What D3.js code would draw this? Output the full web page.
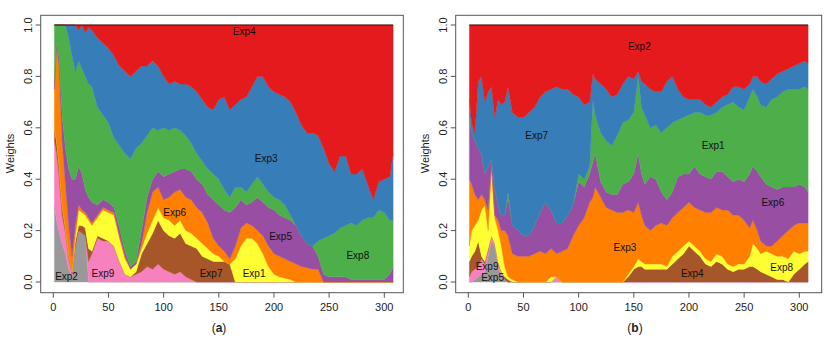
<!DOCTYPE html>
<html>
<head>
<meta charset="utf-8">
<script src="https://cdn.jsdelivr.net/npm/d3@7/dist/d3.min.js"></script>
<style>
  body { margin: 0; background: #fff; }
  text { font-family: "Liberation Sans", Arial, Helvetica, sans-serif; }
</style>
</head>
<body>
<div id="chart"></div>
<script>
// Set1 palette, bottom layer to top layer
var palette = ["#999999", "#F781BF", "#A65628", "#FFFF33", "#FF7F00", "#984EA3", "#4DAF4A", "#377EB8", "#E41A1C"];

// ---- panel (a) ----
var keysA = ["Exp2", "Exp9", "Exp7", "Exp1", "Exp6", "Exp5", "Exp8", "Exp3", "Exp4"];
var timeA = [1,3,5,8,11,14,17,20,23,26,29,32,35,40,45,50,55,60,65,70,75,80,85,90,95,100,105,110,115,120,125,130,135,140,145,150,155,160,165,170,175,180,185,190,195,200,205,210,215,220,225,230,235,240,245,250,255,260,265,270,275,280,285,290,295,300,305,308];
// cumulative upper edge of each layer (the top layer Exp4 runs up to 1)
var edgeA_Exp2 = [.30,.24,.20,.15,.11,.05,.02,.14,.20,.19,.18,0,0,0,0,0,0,0,0,0,0,0,0,0,0,0,0,0,0,0,0,0,0,0,0,0,0,0,0,0,0,0,0,0,0,0,0,0,0,0,0,0,0,0,0,0,0,0,0,0,0,0,0,0,0,0,0,0];
var edgeA_Exp9 = [.55,.50,.42,.26,.19,.09,.03,.14,.20,.19,.18,.08,.11,.17,.16,.16,.14,.08,.03,.02,.03,.04,.06,.05,.07,.05,.04,.03,.04,.02,.01,0,0,0,0,0,0,0,0,0,0,0,0,0,0,0,0,0,0,0,0,0,0,0,0,0,0,0,0,0,0,0,0,0,0,0,0,0];
var edgeA_Exp7 = [.60,.55,.47,.30,.21,.11,.04,.16,.22,.22,.21,.13,.12,.18,.17,.16,.14,.08,.03,.02,.04,.11,.15,.19,.24,.20,.18,.17,.19,.15,.14,.13,.10,.09,.08,.08,.08,.07,0,0,0,0,0,0,0,0,0,0,0,0,0,0,0,0,0,0,0,0,0,0,0,0,0,0,0,0,0,0];
var edgeA_Exp1 = [.60,.55,.47,.30,.21,.11,.04,.18,.28,.27,.26,.24,.22,.25,.28,.27,.26,.17,.09,.05,.07,.13,.19,.24,.29,.25,.24,.22,.24,.20,.19,.17,.15,.13,.11,.10,.08,.07,.09,.14,.17,.17,.15,.11,.06,.03,.02,.015,.01,0,0,0,0,0,0,0,0,0,0,0,0,0,0,0,0,0,0,0];
var edgeA_Exp6 = [.75,.92,.85,.55,.38,.22,.10,.22,.30,.28,.27,.25,.23,.26,.29,.28,.27,.18,.10,.05,.07,.15,.27,.35,.37,.32,.33,.35,.36,.33,.32,.29,.27,.23,.17,.14,.12,.09,.14,.21,.23,.22,.20,.18,.14,.11,.10,.09,.08,.07,.06,.055,.05,.05,0,0,0,0,0,0,0,0,0,0,0,0,0,0];
var edgeA_Exp5 = [.78,.94,.88,.65,.52,.44,.40,.40,.45,.42,.36,.33,.31,.30,.32,.31,.29,.21,.12,.06,.08,.20,.33,.40,.43,.41,.42,.43,.44,.44,.43,.40,.38,.34,.32,.30,.28,.27,.29,.32,.30,.31,.33,.31,.29,.28,.26,.25,.24,.22,.18,.15,.14,.10,.03,.02,.02,.02,.02,.01,.01,.01,.01,.01,.01,.01,.03,.06];
var edgeA_Exp8 = [1,1,1,1,1,.95,.88,.82,.86,.83,.80,.77,.76,.68,.65,.62,.56,.53,.50,.48,.52,.54,.57,.60,.59,.60,.59,.60,.59,.57,.54,.50,.47,.44,.42,.40,.36,.33,.37,.37,.35,.38,.41,.38,.35,.33,.32,.30,.26,.22,.18,.15,.14,.16,.17,.18,.19,.21,.22,.23,.22,.24,.25,.25,.28,.27,.24,.24];
var edgeA_Exp3 = [1,1,1,1,1,1,1,1,.98,1,.97,.99,.98,.95,.93,.91,.88,.84,.82,.80,.82,.84,.84,.86,.84,.80,.77,.78,.77,.77,.76,.74,.71,.68,.67,.71,.72,.67,.69,.71,.72,.76,.80,.80,.76,.74,.73,.72,.70,.66,.61,.58,.58,.57,.52,.46,.43,.49,.49,.42,.42,.44,.38,.32,.39,.40,.41,.50];
var labelsA = [
  { name: "Exp4", t: 173, v: 0.975 }, { name: "Exp3", t: 193, v: 0.48 },
  { name: "Exp8", t: 276, v: 0.105 }, { name: "Exp5", t: 206, v: 0.176 },
  { name: "Exp1", t: 182, v: 0.034 }, { name: "Exp7", t: 143, v: 0.034 },
  { name: "Exp6", t: 110, v: 0.27 }, { name: "Exp9", t: 45, v: 0.034 },
  { name: "Exp2", t: 12, v: 0.02 }
];

// ---- panel (b) ----
var keysB = ["Exp5", "Exp9", "Exp4", "Exp8", "Exp3", "Exp6", "Exp1", "Exp7", "Exp2"];
var timeB = [1,3,6,9,12,15,18,21,24,27,30,33,36,40,45,50,55,60,65,70,75,80,85,90,95,100,105,110,113,115,120,125,130,135,140,145,150,154,157,160,165,170,175,180,185,190,195,200,205,210,215,220,225,230,235,240,245,250,255,258,262,265,270,275,280,285,290,295,300,305,308];
var edgeB_Exp5 = [0,0,.01,.02,.03,.04,.10,.16,.14,.06,.02,.01,0,0,0,0,0,0,0,0,0,0,0,0,0,0,0,0,0,0,0,0,0,0,0,0,0,0,0,0,0,0,0,0,0,0,0,0,0,0,0,0,0,0,0,0,0,0,0,0,0,0,0,0,0,0,0,0,0,0,0];
var edgeB_Exp9 = [.02,.04,.05,.06,.09,.07,.12,.18,.15,.08,.04,.01,0,0,0,0,0,0,0,0,0,.02,0,0,0,0,0,0,0,0,0,0,0,0,0,0,0,0,0,0,0,0,0,0,0,0,0,0,0,0,0,0,0,0,0,0,0,0,0,0,0,0,0,0,0,0,0,0,0,0,0];
var edgeB_Exp4 = [.08,.10,.12,.16,.10,.08,.13,.18,.15,.08,.04,.02,.01,0,0,0,0,0,0,0,0,.02,0,0,0,0,0,0,0,0,0,0,0,0,0,.02,.05,.06,.06,.05,.05,.05,.05,.05,.07,.09,.11,.14,.12,.10,.07,.06,.08,.07,.05,.04,.05,.05,.06,.06,.05,.04,.03,.02,.01,.01,0,.03,.05,.07,.08];
var edgeB_Exp8 = [.14,.20,.22,.24,.28,.30,.20,.44,.25,.20,.14,.06,.02,.01,0,0,0,0,0,0,.02,.02,0,0,0,0,0,0,0,0,0,0,0,0,0,.03,.06,.09,.08,.07,.07,.07,.07,.06,.10,.12,.14,.16,.14,.12,.09,.08,.11,.10,.07,.06,.07,.07,.10,.15,.13,.11,.12,.11,.10,.10,.09,.12,.11,.12,.12];
var edgeB_Exp3 = [.40,.38,.34,.32,.34,.32,.28,.46,.26,.24,.20,.20,.18,.11,.10,.10,.10,.11,.12,.11,.13,.11,.12,.13,.18,.22,.25,.31,.33,.37,.33,.29,.28,.27,.27,.28,.27,.31,.26,.22,.20,.22,.23,.22,.25,.27,.29,.31,.29,.28,.27,.27,.29,.28,.28,.26,.26,.24,.21,.24,.20,.16,.14,.14,.16,.18,.20,.22,.23,.23,.23];
var edgeB_Exp6 = [.66,.58,.55,.52,.50,.42,.45,.48,.37,.30,.26,.26,.33,.22,.20,.18,.18,.22,.27,.31,.28,.23,.23,.26,.30,.39,.37,.42,.47,.50,.39,.35,.34,.34,.38,.39,.42,.50,.42,.38,.41,.40,.35,.32,.35,.41,.42,.42,.45,.42,.41,.40,.43,.43,.41,.39,.40,.39,.42,.45,.43,.41,.38,.37,.36,.37,.37,.37,.38,.37,.35];
var edgeB_Exp1 = [.68,.58,.55,.52,.50,.42,.45,.48,.37,.30,.26,.26,.35,.22,.20,.18,.18,.22,.27,.31,.28,.23,.23,.26,.30,.42,.40,.45,.71,.65,.58,.55,.53,.57,.62,.63,.66,.80,.68,.65,.60,.61,.58,.60,.62,.63,.64,.65,.66,.66,.65,.65,.66,.68,.69,.70,.68,.67,.72,.75,.72,.69,.68,.71,.72,.74,.75,.75,.75,.76,.75];
var edgeB_Exp7 = [.71,.62,.58,.78,.80,.70,.74,.76,.64,.71,.69,.70,.76,.66,.64,.64,.66,.68,.72,.74,.75,.76,.75,.75,.73,.72,.69,.70,.81,.79,.77,.75,.72,.73,.77,.80,.79,.82,.78,.77,.75,.74,.74,.78,.80,.75,.72,.71,.71,.71,.69,.68,.70,.72,.73,.76,.76,.75,.77,.80,.80,.78,.77,.79,.81,.82,.83,.84,.85,.86,.85];
var labelsB = [
  { name: "Exp2", t: 155, v: 0.916 }, { name: "Exp7", t: 62, v: 0.57 },
  { name: "Exp1", t: 222, v: 0.53 }, { name: "Exp6", t: 276, v: 0.31 },
  { name: "Exp3", t: 142, v: 0.136 }, { name: "Exp4", t: 203, v: 0.034 },
  { name: "Exp8", t: 284, v: 0.056 }, { name: "Exp9", t: 17, v: 0.06 },
  { name: "Exp5", t: 22, v: 0.016 }
];

var xTicks = [0, 50, 100, 150, 200, 250, 300];
var yTicks = [0, 0.2, 0.4, 0.6, 0.8, 1.0];

var panels = [
  { tag: "a", keys: keysA, time: timeA, labels: labelsA, off: 0,
    edges: [edgeA_Exp2, edgeA_Exp9, edgeA_Exp7, edgeA_Exp1, edgeA_Exp6, edgeA_Exp5, edgeA_Exp8, edgeA_Exp3] },
  { tag: "b", keys: keysB, time: timeB, labels: labelsB, off: 415,
    edges: [edgeB_Exp5, edgeB_Exp9, edgeB_Exp4, edgeB_Exp8, edgeB_Exp3, edgeB_Exp6, edgeB_Exp1, edgeB_Exp7] }
];

var svg = d3.select("#chart").append("svg")
    .attr("width", 830)
    .attr("height", 343);

panels.forEach(function(p) {
    p.edges.forEach(function(e, k) {
        if (e.length !== p.time.length) throw new Error("panel " + p.tag + " layer " + k + ": " + e.length + " vs " + p.time.length);
    });

    // weights of each expert = difference of successive edges
    var rows = p.time.map(function(t, i) {
        var row = { t: t }, below = 0;
        p.keys.forEach(function(key, k) {
            var top = k < p.edges.length ? p.edges[k][i] : 1;
            row[key] = Math.max(0, top - below);
            below = Math.max(below, top);
        });
        return row;
    });

    var series = d3.stack().keys(p.keys)(rows);

    var x = d3.scaleLinear().domain([0, 300]).range([p.off + 53.3, p.off + 384.3]);
    var y = d3.scaleLinear().domain([0, 1]).range([282, 25]);

    var g = svg.append("g");

    var area = d3.area()
        .x(function(d) { return x(d.data.t); })
        .y0(function(d) { return y(d[0]); })
        .y1(function(d) { return y(d[1]); });

    g.selectAll(".layer")
        .data(series)
        .enter().append("path")
        .attr("class", "layer")
        .attr("fill", function(d, i) { return palette[i]; })
        .attr("stroke", function(d, i) { return palette[i]; })
        .attr("stroke-width", 0.4)
        .attr("d", area);

    // dark edge on top of the stack
    g.append("line")
        .attr("x1", x(p.time[0])).attr("x2", x(p.time[p.time.length - 1]))
        .attr("y1", y(1)).attr("y2", y(1))
        .attr("stroke", "#3a1010").attr("stroke-width", 1);

    // labels inside the layers
    g.selectAll(".lab")
        .data(p.labels)
        .enter().append("text")
        .attr("class", "lab")
        .attr("x", function(d) { return x(d.t); })
        .attr("y", function(d) { return y(d.v); })
        .attr("dy", "0.35em")
        .attr("text-anchor", "middle")
        .attr("font-size", "10px")
        .attr("fill", "#111")
        .text(function(d) { return d.name; });

    // frame
    var left = p.off + 40.7, right = p.off + (p.tag === "a" ? 403.3 : 406.7), top = 15.3, bottom = 292.7;
    g.append("rect")
        .attr("x", left).attr("y", top)
        .attr("width", right - left).attr("height", bottom - top)
        .attr("fill", "none").attr("stroke", "#555").attr("stroke-width", 1);

    // x axis
    xTicks.forEach(function(v) {
        g.append("line")
            .attr("x1", x(v)).attr("x2", x(v))
            .attr("y1", bottom).attr("y2", bottom + 5)
            .attr("stroke", "#555");
        g.append("text")
            .attr("x", x(v)).attr("y", 307)
            .attr("dy", "0.35em")
            .attr("text-anchor", "middle")
            .attr("font-size", "11px")
            .attr("fill", "#222")
            .text(v);
    });

    // y axis
    yTicks.forEach(function(v) {
        g.append("line")
            .attr("x1", left - 5).attr("x2", left)
            .attr("y1", y(v)).attr("y2", y(v))
            .attr("stroke", "#555");
        g.append("text")
            .attr("transform", "translate(" + (p.off + 28) + "," + y(v) + ") rotate(-90)")
            .attr("dy", "0.35em")
            .attr("text-anchor", "middle")
            .attr("font-size", "11px")
            .attr("fill", "#222")
            .text(d3.format(".1f")(v));
    });

    g.append("text")
        .attr("transform", "translate(" + (p.off + 10.3) + "," + 153.5 + ") rotate(-90)")
        .attr("dy", "0.35em")
        .attr("text-anchor", "middle")
        .attr("font-size", "11px")
        .attr("fill", "#222")
        .text("Weights");

    // panel tag
    var tag = g.append("text")
        .attr("x", p.tag === "a" ? 219 : 635).attr("y", 328)
        .attr("dy", "0.35em")
        .attr("text-anchor", "middle")
        .attr("font-size", "12px")
        .attr("fill", "#222");
    tag.append("tspan").text("(");
    tag.append("tspan").attr("font-weight", "bold").text(p.tag);
    tag.append("tspan").text(")");
});
</script>
</body>
</html>
